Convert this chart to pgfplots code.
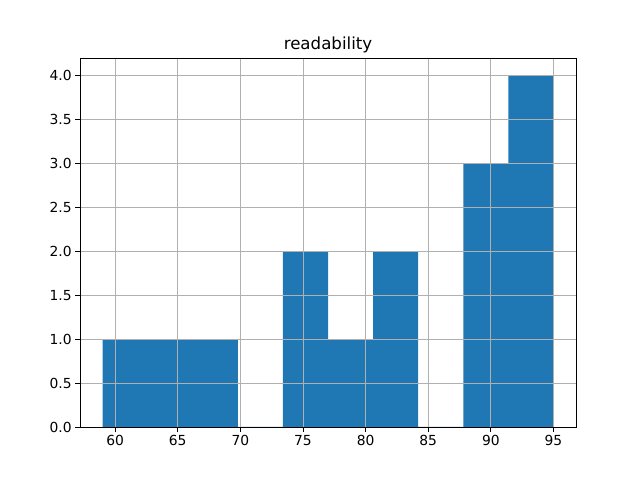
\documentclass[border=0pt]{standalone}
\usepackage{pgfplots}
\pgfplotsset{compat=1.18}
\usepackage{fontspec}
\setmainfont{DejaVu Sans}
\definecolor{mplblue}{HTML}{1F77B4}
\definecolor{mplgrid}{HTML}{B0B0B0}
\begin{document}
\begin{tikzpicture}[x=1bp,y=1bp]
\useasboundingbox (-80bp,-53bp) rectangle (560bp,427bp);
\begin{axis}[
  at={(0,0)}, anchor=south west,
  scale only axis, width=496bp, height=369bp,
  xmin=57.2, xmax=96.8, ymin=0, ymax=4.2,
  xtick={60,65,...,95}, ytick={0,0.5,...,4.0},
  yticklabel style={/pgf/number format/.cd,fixed,fixed zerofill,precision=1},
  /pgf/number format/assume math mode=true,
  ticklabel style={font=\fontsize{13.9}{16}\selectfont},
  tick align=outside, major tick length=4.9bp,
  tick style={black, line width=0.8bp},
  xtick pos=bottom, ytick pos=left,
  axis line style={line width=0.8bp},
  grid=major, major grid style={mplgrid, line width=0.8bp},
  axis on top,
  title={readability},
  title style={font=\fontsize{16.7}{19}\selectfont, yshift=-4bp},
]
\addplot[ybar interval, fill=mplblue, draw=none] coordinates {
(59,1) (62.6,1) (66.2,1) (69.8,0) (73.4,2) (77,1) (80.6,2) (84.2,0) (87.8,3) (91.4,4) (95,4)};
\end{axis}
\end{tikzpicture}
\end{document}
